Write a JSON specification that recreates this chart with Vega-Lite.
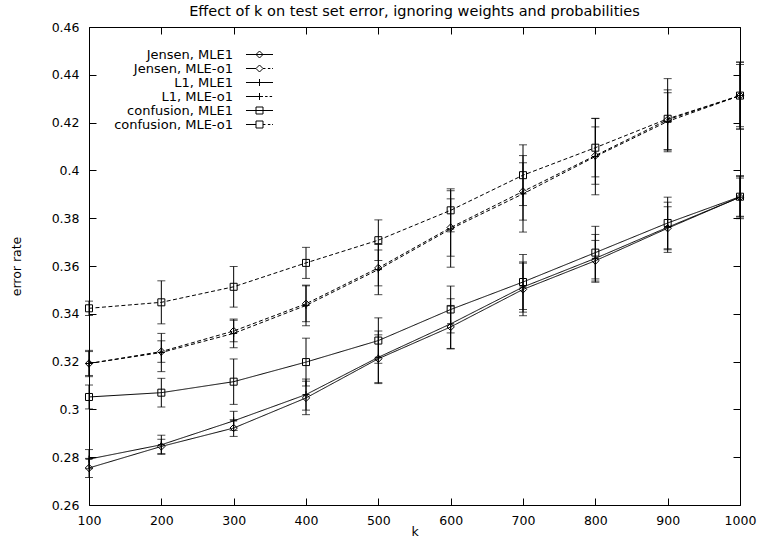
{
  "$schema": "https://vega.github.io/schema/vega-lite/v6.json",
  "width": 651,
  "height": 478,
  "autosize": {"type": "none"},
  "padding": {"left": 89, "top": 27, "right": 20, "bottom": 34},
  "background": "white",
  "title": {
    "text": "Effect of k on test set error, ignoring weights and probabilities",
    "font": "DejaVu Sans",
    "fontSize": 14.5,
    "fontWeight": "normal",
    "color": "black",
    "anchor": "middle",
    "offset": 2
  },
  "config": {
    "view": {"stroke": "black", "strokeWidth": 1},
    "font": "DejaVu Sans",
    "axis": {
      "labelFont": "DejaVu Sans",
      "labelFontSize": 12.5,
      "labelColor": "black",
      "titleFont": "DejaVu Sans",
      "titleFontSize": 12.5,
      "titleFontWeight": "normal",
      "titleColor": "black",
      "grid": false,
      "domain": false,
      "tickColor": "black",
      "tickSize": -7,
      "tickWidth": 1
    }
  },
  "data": {
    "values": [
      {"series": "Jensen, MLE1", "marker": "diamond", "k": 100, "v": 0.2755, "lo": 0.2715, "hi": 0.2795},
      {"series": "Jensen, MLE1", "marker": "diamond", "k": 200, "v": 0.2845, "lo": 0.2815, "hi": 0.2875},
      {"series": "Jensen, MLE1", "marker": "diamond", "k": 300, "v": 0.2922, "lo": 0.2887, "hi": 0.2957},
      {"series": "Jensen, MLE1", "marker": "diamond", "k": 400, "v": 0.3048, "lo": 0.2978, "hi": 0.3118},
      {"series": "Jensen, MLE1", "marker": "diamond", "k": 500, "v": 0.3212, "lo": 0.3112, "hi": 0.3312},
      {"series": "Jensen, MLE1", "marker": "diamond", "k": 600, "v": 0.3345, "lo": 0.3255, "hi": 0.3435},
      {"series": "Jensen, MLE1", "marker": "diamond", "k": 700, "v": 0.3502, "lo": 0.3392, "hi": 0.3612},
      {"series": "Jensen, MLE1", "marker": "diamond", "k": 800, "v": 0.3622, "lo": 0.3537, "hi": 0.3707},
      {"series": "Jensen, MLE1", "marker": "diamond", "k": 900, "v": 0.3758, "lo": 0.3668, "hi": 0.3848},
      {"series": "Jensen, MLE1", "marker": "diamond", "k": 1000, "v": 0.3888, "lo": 0.3798, "hi": 0.3978},

      {"series": "Jensen, MLE-o1", "marker": "diamond", "k": 100, "v": 0.3192, "lo": 0.3137, "hi": 0.3247},
      {"series": "Jensen, MLE-o1", "marker": "diamond", "k": 200, "v": 0.3242, "lo": 0.3197, "hi": 0.3287},
      {"series": "Jensen, MLE-o1", "marker": "diamond", "k": 300, "v": 0.3328, "lo": 0.3283, "hi": 0.3373},
      {"series": "Jensen, MLE-o1", "marker": "diamond", "k": 400, "v": 0.3442, "lo": 0.3367, "hi": 0.3517},
      {"series": "Jensen, MLE-o1", "marker": "diamond", "k": 500, "v": 0.3592, "lo": 0.3517, "hi": 0.3667},
      {"series": "Jensen, MLE-o1", "marker": "diamond", "k": 600, "v": 0.3761, "lo": 0.3641, "hi": 0.3881},
      {"series": "Jensen, MLE-o1", "marker": "diamond", "k": 700, "v": 0.3912, "lo": 0.3792, "hi": 0.4032},
      {"series": "Jensen, MLE-o1", "marker": "diamond", "k": 800, "v": 0.4062, "lo": 0.3942, "hi": 0.4182},
      {"series": "Jensen, MLE-o1", "marker": "diamond", "k": 900, "v": 0.4212, "lo": 0.4087, "hi": 0.4337},
      {"series": "Jensen, MLE-o1", "marker": "diamond", "k": 1000, "v": 0.4313, "lo": 0.4173, "hi": 0.4453},

      {"series": "L1, MLE1", "marker": "plus", "k": 100, "v": 0.2792, "lo": 0.2752, "hi": 0.2832},
      {"series": "L1, MLE1", "marker": "plus", "k": 200, "v": 0.2852, "lo": 0.2812, "hi": 0.2892},
      {"series": "L1, MLE1", "marker": "plus", "k": 300, "v": 0.2952, "lo": 0.2912, "hi": 0.2992},
      {"series": "L1, MLE1", "marker": "plus", "k": 400, "v": 0.3062, "lo": 0.2997, "hi": 0.3127},
      {"series": "L1, MLE1", "marker": "plus", "k": 500, "v": 0.3218, "lo": 0.3108, "hi": 0.3328},
      {"series": "L1, MLE1", "marker": "plus", "k": 600, "v": 0.3358, "lo": 0.3253, "hi": 0.3463},
      {"series": "L1, MLE1", "marker": "plus", "k": 700, "v": 0.3512, "lo": 0.3407, "hi": 0.3617},
      {"series": "L1, MLE1", "marker": "plus", "k": 800, "v": 0.3632, "lo": 0.3532, "hi": 0.3732},
      {"series": "L1, MLE1", "marker": "plus", "k": 900, "v": 0.3762, "lo": 0.3657, "hi": 0.3867},
      {"series": "L1, MLE1", "marker": "plus", "k": 1000, "v": 0.3888, "lo": 0.3808, "hi": 0.3968},

      {"series": "L1, MLE-o1", "marker": "plus", "k": 100, "v": 0.3192, "lo": 0.3142, "hi": 0.3242},
      {"series": "L1, MLE-o1", "marker": "plus", "k": 200, "v": 0.3238, "lo": 0.3158, "hi": 0.3318},
      {"series": "L1, MLE-o1", "marker": "plus", "k": 300, "v": 0.3318, "lo": 0.3258, "hi": 0.3378},
      {"series": "L1, MLE-o1", "marker": "plus", "k": 400, "v": 0.3435, "lo": 0.3350, "hi": 0.3520},
      {"series": "L1, MLE-o1", "marker": "plus", "k": 500, "v": 0.3585, "lo": 0.3480, "hi": 0.3690},
      {"series": "L1, MLE-o1", "marker": "plus", "k": 600, "v": 0.3755, "lo": 0.3595, "hi": 0.3915},
      {"series": "L1, MLE-o1", "marker": "plus", "k": 700, "v": 0.3902, "lo": 0.3742, "hi": 0.4062},
      {"series": "L1, MLE-o1", "marker": "plus", "k": 800, "v": 0.4058, "lo": 0.3898, "hi": 0.4218},
      {"series": "L1, MLE-o1", "marker": "plus", "k": 900, "v": 0.4205, "lo": 0.4085, "hi": 0.4325},
      {"series": "L1, MLE-o1", "marker": "plus", "k": 1000, "v": 0.4313, "lo": 0.4183, "hi": 0.4443},

      {"series": "confusion, MLE1", "marker": "square", "k": 100, "v": 0.3052, "lo": 0.3002, "hi": 0.3102},
      {"series": "confusion, MLE1", "marker": "square", "k": 200, "v": 0.3070, "lo": 0.3010, "hi": 0.3130},
      {"series": "confusion, MLE1", "marker": "square", "k": 300, "v": 0.3116, "lo": 0.3021, "hi": 0.3211},
      {"series": "confusion, MLE1", "marker": "square", "k": 400, "v": 0.3198, "lo": 0.3098, "hi": 0.3298},
      {"series": "confusion, MLE1", "marker": "square", "k": 500, "v": 0.3288, "lo": 0.3193, "hi": 0.3383},
      {"series": "confusion, MLE1", "marker": "square", "k": 600, "v": 0.3418, "lo": 0.3320, "hi": 0.3516},
      {"series": "confusion, MLE1", "marker": "square", "k": 700, "v": 0.3533, "lo": 0.3418, "hi": 0.3648},
      {"series": "confusion, MLE1", "marker": "square", "k": 800, "v": 0.3656, "lo": 0.3546, "hi": 0.3766},
      {"series": "confusion, MLE1", "marker": "square", "k": 900, "v": 0.3780, "lo": 0.3672, "hi": 0.3888},
      {"series": "confusion, MLE1", "marker": "square", "k": 1000, "v": 0.3890, "lo": 0.3805, "hi": 0.3975},

      {"series": "confusion, MLE-o1", "marker": "square", "k": 100, "v": 0.3423, "lo": 0.3393, "hi": 0.3453},
      {"series": "confusion, MLE-o1", "marker": "square", "k": 200, "v": 0.3448, "lo": 0.3358, "hi": 0.3538},
      {"series": "confusion, MLE-o1", "marker": "square", "k": 300, "v": 0.3513, "lo": 0.3428, "hi": 0.3598},
      {"series": "confusion, MLE-o1", "marker": "square", "k": 400, "v": 0.3613, "lo": 0.3548, "hi": 0.3678},
      {"series": "confusion, MLE-o1", "marker": "square", "k": 500, "v": 0.3708, "lo": 0.3623, "hi": 0.3793},
      {"series": "confusion, MLE-o1", "marker": "square", "k": 600, "v": 0.3833, "lo": 0.3743, "hi": 0.3923},
      {"series": "confusion, MLE-o1", "marker": "square", "k": 700, "v": 0.3980, "lo": 0.3853, "hi": 0.4107},
      {"series": "confusion, MLE-o1", "marker": "square", "k": 800, "v": 0.4095, "lo": 0.3973, "hi": 0.4217},
      {"series": "confusion, MLE-o1", "marker": "square", "k": 900, "v": 0.4216, "lo": 0.4078, "hi": 0.4384},
      {"series": "confusion, MLE-o1", "marker": "square", "k": 1000, "v": 0.4313, "lo": 0.4173, "hi": 0.4453}
    ]
  },
  "layer": [
    {
      "mark": {"type": "errorbar", "ticks": {"size": 8, "color": "black", "strokeWidth": 1}, "rule": {"color": "black", "strokeWidth": 1}},
      "encoding": {
        "x": {
          "field": "k", "type": "quantitative",
          "scale": {"domain": [100, 1000], "nice": false, "zero": false},
          "axis": {"orient": "bottom", "values": [100, 200, 300, 400, 500, 600, 700, 800, 900, 1000], "format": "d", "labelPadding": 16, "title": "k", "titleY": 30, "titleBaseline": "alphabetic", "labelFlush": false}
        },
        "y": {
          "field": "lo", "type": "quantitative",
          "scale": {"domain": [0.26, 0.46], "nice": false, "zero": false},
          "axis": {"orient": "left", "values": [0.26, 0.28, 0.3, 0.32, 0.34, 0.36, 0.38, 0.4, 0.42, 0.44, 0.46], "format": "~g", "labelPadding": 17, "title": "error rate", "titleX": -73, "titleY": 239, "titleAngle": -90, "titleBaseline": "middle", "labelFlush": false}
        },
        "y2": {"field": "hi"}
      }
    },
    {
      "mark": {"type": "line", "color": "black", "strokeWidth": 1},
      "encoding": {
        "x": {"field": "k", "type": "quantitative", "axis": null},
        "y": {"field": "v", "type": "quantitative", "axis": null},
        "detail": {"field": "series"},
        "strokeDash": {
          "field": "series", "type": "nominal", "legend": null,
          "scale": {
            "domain": ["Jensen, MLE1", "Jensen, MLE-o1", "L1, MLE1", "L1, MLE-o1", "confusion, MLE1", "confusion, MLE-o1"],
            "range": [[1, 0], [4, 2.5], [1, 0], [4, 2.5], [1, 0], [4, 2.5]]
          }
        }
      }
    },
    {
      "mark": {"type": "point", "filled": false, "color": "black", "strokeWidth": 1, "size": 49, "opacity": 1},
      "encoding": {
        "x": {"field": "k", "type": "quantitative", "axis": null},
        "y": {"field": "v", "type": "quantitative", "axis": null},
        "shape": {
          "field": "marker", "type": "nominal", "legend": null,
          "scale": {
            "domain": ["diamond", "plus", "square"],
            "range": ["M-1.05,0L0,-1.05L1.05,0L0,1.05Z", "M-1,0H1M0,-1V1", "M-1,-1H1V1H-1Z"]
          }
        }
      }
    },
    {
      "mark": {"type": "point", "filled": false, "color": "black", "strokeWidth": 1, "size": 49, "opacity": 0},
      "encoding": {
        "x": {"field": "k", "type": "quantitative", "axis": {"orient": "top", "values": [100, 200, 300, 400, 500, 600, 700, 800, 900, 1000], "labels": false, "title": null}},
        "y": {"field": "v", "type": "quantitative", "axis": {"orient": "right", "values": [0.26, 0.28, 0.3, 0.32, 0.34, 0.36, 0.38, 0.4, 0.42, 0.44, 0.46], "labels": false, "title": null}},
        "shape": {
          "field": "series", "type": "nominal",
          "scale": {
            "domain": ["Jensen, MLE1", "Jensen, MLE-o1", "L1, MLE1", "L1, MLE-o1", "confusion, MLE1", "confusion, MLE-o1"],
            "range": [
              "M-3.86,0H3.86M-1,0L0,-1L1,0L0,1Z",
              "M-3.86,0H-1M1,0H1.7M2.4,0H3.1M3.6,0H3.86M-1,0L0,-1L1,0L0,1Z",
              "M-3.86,0H3.86M0,-1V1",
              "M-3.86,0H1M1.6,0H2.3M2.9,0H3.6M0,-1V1",
              "M-3.86,0H3.86M-1,-1H1V1H-1Z",
              "M-3.86,0H-1M1,0H1.7M2.4,0H3.1M3.6,0H3.86M-1,-1H1V1H-1Z"
            ]
          },
          "legend": {
            "title": null,
            "orient": "none",
            "legendX": 164,
            "legendY": 21,
            "padding": 0,
            "labelAlign": "right",
            "labelOffset": -33,
            "labelFont": "DejaVu Sans",
            "labelFontSize": 13,
            "labelColor": "black",
            "labelLimit": 300,
            "symbolSize": 49,
            "symbolOpacity": 1,
            "symbolStrokeColor": "black",
            "symbolFillColor": "transparent",
            "symbolStrokeWidth": 1,
            "rowPadding": 0
          }
        }
      }
    }
  ],
  "resolve": {"scale": {"shape": "independent"}, "axis": {"x": "independent", "y": "independent"}}
}
